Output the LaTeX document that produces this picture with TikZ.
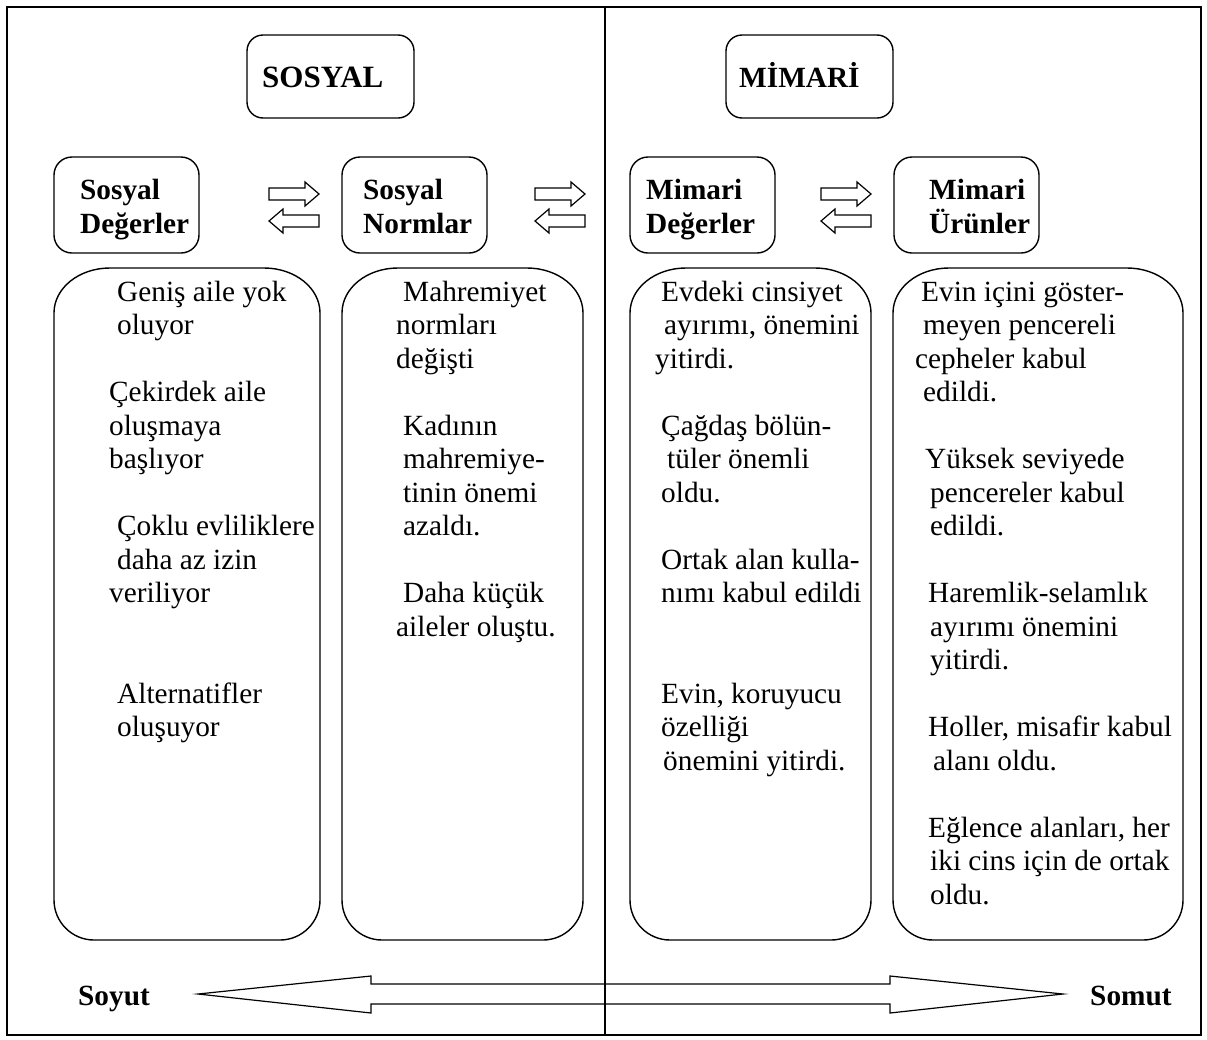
\documentclass[tikz,border=0pt]{standalone}
\usepackage{fontspec}
\setmainfont{Liberation Serif}
\usetikzlibrary{calc}
\tikzset{
  x=1pt, y=-1pt,
  frame/.style={draw, line width=1.4pt},
  boxline/.style={draw, line width=1.4pt},
  headbox/.style={draw, line width=1.4pt, rounded corners=16pt, inner sep=0pt},
  catbox/.style={draw, line width=1.4pt, rounded corners=18pt, inner sep=0pt},
  blockarrow/.style={draw, line width=1.2pt, line join=miter},
  txt/.style={anchor=base west, inner sep=0pt, font=\fontsize{29.3}{33.5}\selectfont},
  btxt/.style={anchor=base west, inner sep=0pt, font=\fontsize{29.3}{33.5}\selectfont\bfseries},
}
\newcommand{\rarr}[3]{% name, x, y : right pointing hollow arrow
  \coordinate (#1) at (#2,#3);
  \draw[blockarrow] ($(#1)+(0,-6)$) -- ++(36,0) -- ++(0,-6) -- ++(14,12) -- ++(-14,12) -- ++(0,-6) -- ++(-36,0) -- cycle;}
\newcommand{\larr}[3]{% name, x, y : left pointing hollow arrow (x = left tip)
  \coordinate (#1) at (#2,#3);
  \draw[blockarrow] (#1) -- ++(14,-12) -- ++(0,6) -- ++(36,0) -- ++(0,12) -- ++(-36,0) -- ++(0,6) -- cycle;}
\newcommand{\lbox}[5]{% name, x0, y0, x1, y1 : tall list box, wide top corners
  \coordinate (#1) at ({(#2+#4)/2},{(#3+#5)/2});
  \draw[boxline] (#2,{#3+45}) .. controls (#2,{#3+20}) and ({#2+25},#3) .. ({#2+56},#3)
    -- ({#4-56},#3) .. controls ({#4-25},#3) and (#4,{#3+20}) .. (#4,{#3+45})
    -- (#4,{#5-40}) .. controls (#4,{#5-18}) and ({#4-18},#5) .. ({#4-40},#5)
    -- ({#2+40},#5) .. controls ({#2+18},#5) and (#2,{#5-18}) .. (#2,{#5-40}) -- cycle;}
\begin{document}
\begin{tikzpicture}
\useasboundingbox (0,0) rectangle (1207,1039);
\fill[white] (0,0) rectangle (1207,1039);
% outer frame and divider
\node[frame, minimum width=1194pt, minimum height=1028pt, inner sep=0pt] (frame) at (604,521) {};
\coordinate (divtop) at (605,7);
\coordinate (divbot) at (605,1035);
\draw[line width=1.2pt] (divtop) -- (divbot);

% heading boxes
\node[headbox, minimum width=167pt, minimum height=83pt] (sosyal) at (330.5,76.5) {};
\node[btxt, font=\fontsize{31}{33.5}\selectfont\bfseries] (sosyalT) at (262,87) {SOSYAL};
\node[headbox, minimum width=167pt, minimum height=83pt] (mimari) at (809.5,76.5) {};
\node[btxt] (mimariT) at (739,87) {MİMARİ};

% category boxes
\node[catbox, minimum width=145pt, minimum height=96pt] (sd) at (126.5,205) {};
\node[btxt] (sd1) at (80,199) {Sosyal};
\node[btxt] (sd2) at (80,233) {Değerler};
\node[catbox, minimum width=145pt, minimum height=96pt] (sn) at (414.5,205) {};
\node[btxt] (sn1) at (363,199) {Sosyal};
\node[btxt] (sn2) at (363,233) {Normlar};
\node[catbox, minimum width=145pt, minimum height=96pt] (md) at (702.5,205) {};
\node[btxt] (md1) at (646,199) {Mimari};
\node[btxt] (md2) at (646,233) {Değerler};
\node[catbox, minimum width=145pt, minimum height=96pt] (mu) at (966.5,205) {};
\node[btxt] (mu1) at (929,199) {Mimari};
\node[btxt] (mu2) at (929,233) {Ürünler};

% hollow arrows between category boxes
\rarr{a1r}{269}{194}
\larr{a1l}{269}{221}
\rarr{a2r}{535}{194}
\larr{a2l}{535}{221}
\rarr{a3r}{821}{194}
\larr{a3l}{821}{221}

% list boxes
\lbox{l1}{54}{268}{320}{940}
\lbox{l2}{342}{268}{583}{940}
\lbox{l3}{630}{268}{871}{940}
\lbox{l4}{893}{268}{1183}{940}

% list 1 (baseline = 301 + 33.5 (n-1))
\node[txt] (t1a) at (117,301) {Geniş aile yok};
\node[txt] (t1b) at (117,334.5) {oluyor};
\node[txt] (t1c) at (109,401.5) {Çekirdek aile};
\node[txt] (t1d) at (109,435) {oluşmaya};
\node[txt] (t1e) at (109,468.5) {başlıyor};
\node[txt] (t1f) at (117,535.5) {Çoklu evliliklere};
\node[txt] (t1g) at (117,569) {daha az izin};
\node[txt] (t1h) at (109,602.5) {veriliyor};
\node[txt] (t1i) at (117,703) {Alternatifler};
\node[txt] (t1j) at (117,736.5) {oluşuyor};

% list 2
\node[txt] (t2a) at (403,301) {Mahremiyet};
\node[txt] (t2b) at (396,334.5) {normları};
\node[txt] (t2c) at (396,368) {değişti};
\node[txt] (t2d) at (403,435) {Kadının};
\node[txt] (t2e) at (403,468.5) {mahremiye-};
\node[txt] (t2f) at (403,502) {tinin önemi};
\node[txt] (t2g) at (403,535.5) {azaldı.};
\node[txt] (t2h) at (403,602.5) {Daha küçük};
\node[txt] (t2i) at (396,636) {aileler oluştu.};

% list 3
\node[txt] (t3a) at (661,301) {Evdeki cinsiyet};
\node[txt] (t3b) at (664,334.5) {ayırımı, önemini};
\node[txt] (t3c) at (655,368) {yitirdi.};
\node[txt] (t3d) at (661,435) {Çağdaş bölün-};
\node[txt] (t3e) at (667,468.5) {tüler önemli};
\node[txt] (t3f) at (661,502) {oldu.};
\node[txt] (t3g) at (661,569) {Ortak alan kulla-};
\node[txt] (t3h) at (661,602.5) {nımı kabul edildi};
\node[txt] (t3i) at (661,703) {Evin, koruyucu};
\node[txt] (t3j) at (661,736.5) {özelliği};
\node[txt] (t3k) at (663,770) {önemini yitirdi.};

% list 4
\node[txt] (t4a) at (921,301) {Evin içini göster-};
\node[txt] (t4b) at (923,334.5) {meyen pencereli};
\node[txt] (t4c) at (915,368) {cepheler kabul};
\node[txt] (t4d) at (923,401.5) {edildi.};
\node[txt] (t4e) at (925,468.5) {Yüksek seviyede};
\node[txt] (t4f) at (930,502) {pencereler kabul};
\node[txt] (t4g) at (930,535.5) {edildi.};
\node[txt] (t4h) at (928,602.5) {Haremlik-selamlık};
\node[txt] (t4i) at (930,636) {ayırımı önemini};
\node[txt] (t4j) at (930,669.5) {yitirdi.};
\node[txt] (t4k) at (928,736.5) {Holler, misafir kabul};
\node[txt] (t4l) at (933,770) {alanı oldu.};
\node[txt] (t4m) at (928,837) {Eğlence alanları, her};
\node[txt] (t4n) at (930,870.5) {iki cins için de ortak};
\node[txt] (t4o) at (930,904) {oldu.};

% bottom labels and double arrow
\node[btxt] (soyut) at (78,1005) {Soyut};
\node[btxt] (somut) at (1090,1005) {Somut};
\coordinate (tipL) at (198,994);
\coordinate (tipR) at (1063,994);
\draw[blockarrow] (tipL) -- (371,976) -- (371,984) -- (890,984) -- (890,976) -- (tipR)
  -- (890,1013) -- (890,1004) -- (371,1004) -- (371,1013) -- cycle;
\end{tikzpicture}
\end{document}
